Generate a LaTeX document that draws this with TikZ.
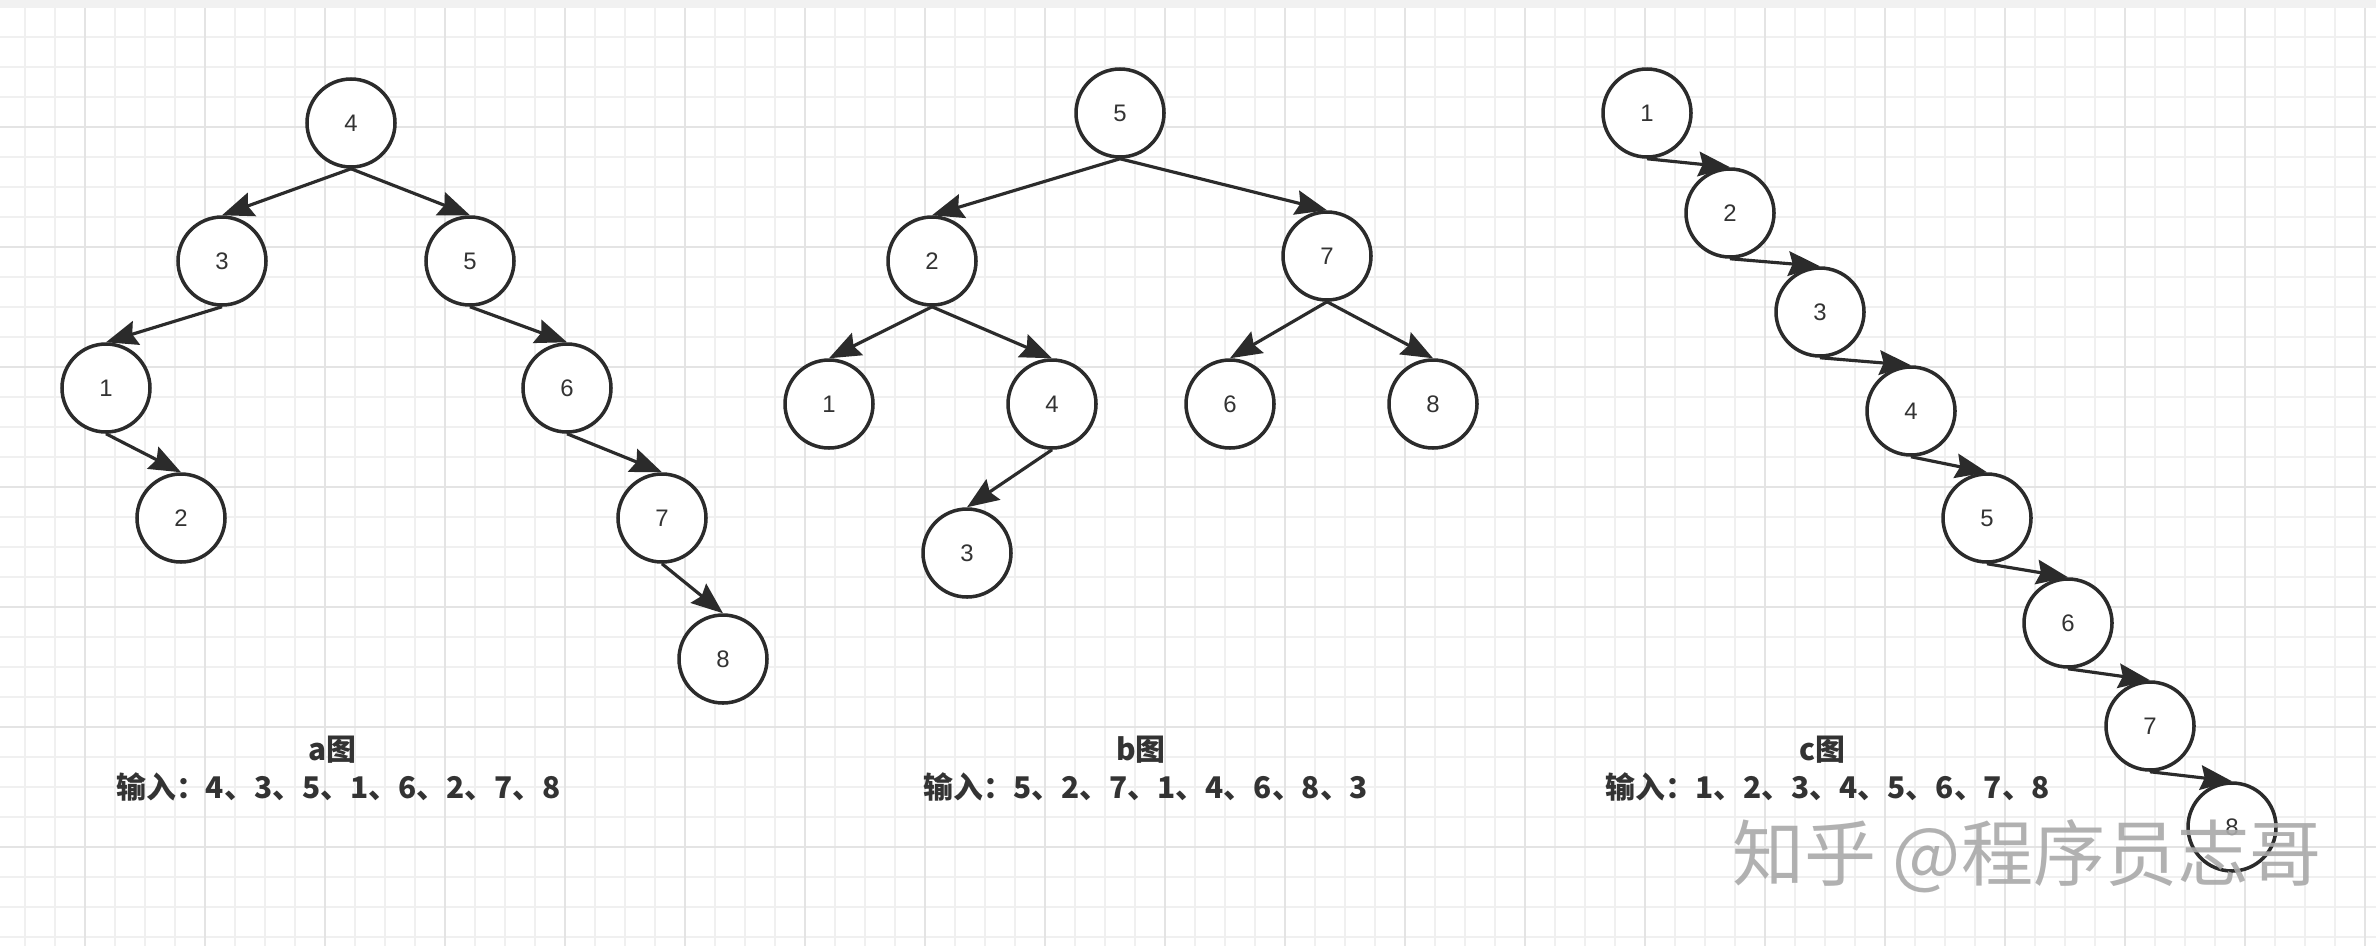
\documentclass[tikz,border=0pt]{standalone}
\usepackage{fontspec}
\setmainfont{Liberation Sans}
\newfontfamily\cjk{Noto Sans CJK SC}
\usetikzlibrary{arrows.meta}
\definecolor{ink}{HTML}{2B2B2B}
\definecolor{txt}{HTML}{333333}
\definecolor{gridminor}{HTML}{F0F0F0}
\definecolor{gridmajor}{HTML}{E4E4E4}
\definecolor{topband}{HTML}{F1F1F1}
\definecolor{wmgray}{HTML}{A9A9A9}
\tikzset{
	vertex/.style={circle, draw=ink, line width=1pt, fill=white, minimum size=0.88cm, inner sep=0pt, text=txt, font=\fontsize{6.8}{8}\selectfont},
	treearrow/.style={draw=ink, line width=0.9pt, -{Stealth[length=9pt,width=7pt,inset=1.2pt]}},
	caption/.style={text=txt, inner sep=0pt, font=\cjk\bfseries\fontsize{8.5}{10}\selectfont}
}

\begin{document}
\begin{tikzpicture}[x=1cm,y=-1cm]
			\useasboundingbox (0,0) rectangle (23.76,9.46);
			\fill[white] (0,0) rectangle (23.76,9.46);
			\foreach \gx in {0.25,0.55,...,23.66} \draw[gridminor, line width=0.45pt] (\gx,0) -- (\gx,9.46);
			\foreach \gy in {0.37,0.67,...,9.40} \draw[gridminor, line width=0.45pt] (0,\gy) -- (23.76,\gy);
			\foreach \gx in {0.85,2.05,...,23.66} \draw[gridmajor, line width=0.5pt] (\gx,0) -- (\gx,9.46);
			\foreach \gy in {1.27,2.47,...,9.40} \draw[gridmajor, line width=0.5pt] (0,\gy) -- (23.76,\gy);
			\fill[topband] (0,0) rectangle (23.76,0.08);

			\node[vertex] (a4) at (3.51,1.23) {4};
			\node[vertex] (a3) at (2.22,2.61) {3};
			\node[vertex] (a5) at (4.70,2.61) {5};
			\node[vertex] (a1) at (1.06,3.88) {1};
			\node[vertex] (a6) at (5.67,3.88) {6};
			\node[vertex] (a2) at (1.81,5.18) {2};
			\node[vertex] (a7) at (6.62,5.18) {7};
			\node[vertex] (a8) at (7.23,6.59) {8};
			\draw[treearrow] (a4.south) -- (a3.north);
			\draw[treearrow] (a4.south) -- (a5.north);
			\draw[treearrow] (a3.south) -- (a1.north);
			\draw[treearrow] (a1.south) -- (a2.north);
			\draw[treearrow] (a5.south) -- (a6.north);
			\draw[treearrow] (a6.south) -- (a7.north);
			\draw[treearrow] (a7.south) -- (a8.north);
			\node[caption] (acap) at (3.32,7.50) {a图};
			\node[caption] (ain) at (3.385,7.87) {输入：4、3、5、1、6、2、7、8};

			\node[vertex] (b5) at (11.20,1.13) {5};
			\node[vertex] (b2) at (9.32,2.61) {2};
			\node[vertex] (b7) at (13.27,2.56) {7};
			\node[vertex] (b1) at (8.29,4.04) {1};
			\node[vertex] (b4) at (10.52,4.04) {4};
			\node[vertex] (b6) at (12.30,4.04) {6};
			\node[vertex] (b8) at (14.33,4.04) {8};
			\node[vertex] (b3) at (9.67,5.53) {3};
			\draw[treearrow] (b5.south) -- (b2.north);
			\draw[treearrow] (b5.south) -- (b7.north);
			\draw[treearrow] (b2.south) -- (b1.north);
			\draw[treearrow] (b2.south) -- (b4.north);
			\draw[treearrow] (b4.south) -- (b3.north);
			\draw[treearrow] (b7.south) -- (b6.north);
			\draw[treearrow] (b7.south) -- (b8.north);
			\node[caption] (bcap) at (11.41,7.50) {b图};
			\node[caption] (bin) at (11.46,7.87) {输入：5、2、7、1、4、6、8、3};

			\node[vertex] (c1) at (16.47,1.13) {1};
			\node[vertex] (c2) at (17.30,2.13) {2};
			\node[vertex] (c3) at (18.20,3.12) {3};
			\node[vertex] (c4) at (19.11,4.11) {4};
			\node[vertex] (c5) at (19.87,5.18) {5};
			\node[vertex] (c6) at (20.68,6.23) {6};
			\node[vertex] (c7) at (21.50,7.26) {7};
			\node[vertex] (c8) at (22.32,8.27) {8};
			\draw[treearrow] (c1.south) -- (c2.north);
			\draw[treearrow] (c2.south) -- (c3.north);
			\draw[treearrow] (c3.south) -- (c4.north);
			\draw[treearrow] (c4.south) -- (c5.north);
			\draw[treearrow] (c5.south) -- (c6.north);
			\draw[treearrow] (c6.south) -- (c7.north);
			\draw[treearrow] (c7.south) -- (c8.north);
			\node[caption] (ccap) at (18.22,7.50) {c图};
			\node[caption] (cin) at (18.28,7.87) {输入：1、2、3、4、5、6、7、8};

			\node[text=wmgray, opacity=0.9, inner sep=0pt, font=\cjk\fontsize{20.5}{24}\selectfont] (zhwm) at (20.27,8.56) {知乎 @程序员志哥};
		\end{tikzpicture}
\end{document}
